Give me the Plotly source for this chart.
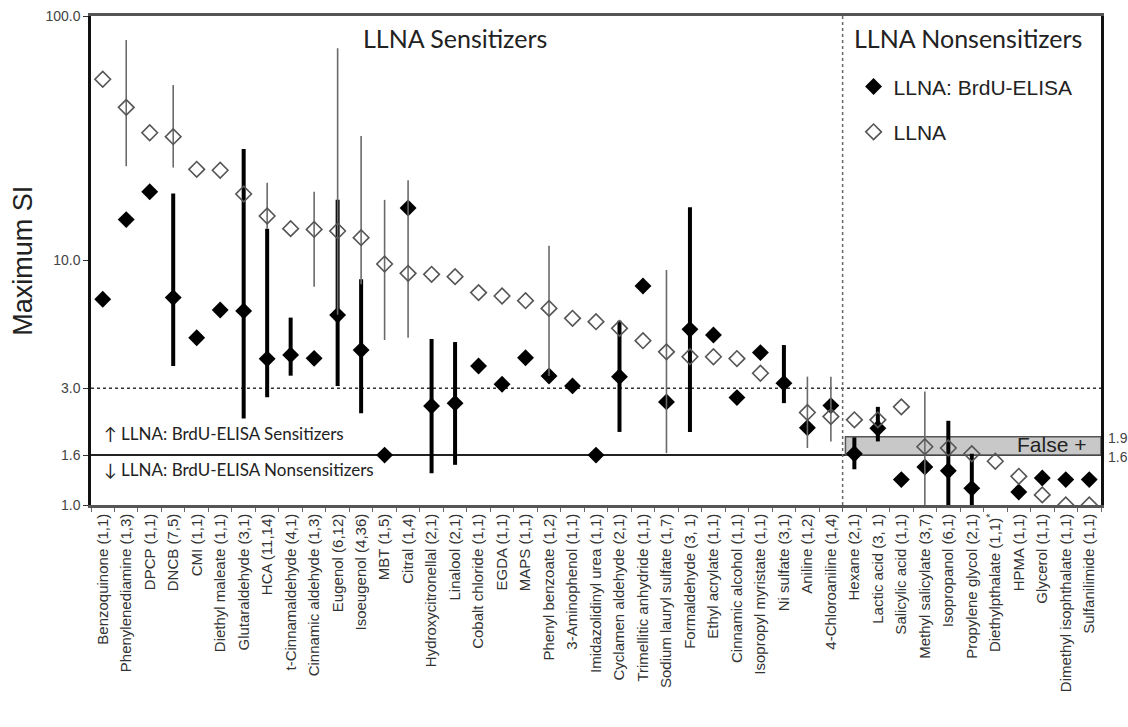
import math
import plotly.graph_objects as go

categories = [
    "Benzoquinone (1,1)", "Phenylenediamine (1,3)", "DPCP (1,1)", "DNCB (7,5)", "CMI (1,1)",
    "Diethyl maleate (1,1)", "Glutaraldehyde (3,1)", "HCA (11,14)", "t-Cinnamaldehyde (4,1)",
    "Cinnamic aldehyde (1,3)", "Eugenol (6,12)", "Isoeugenol (4,36)", "MBT (1,5)", "Citral (1,4)",
    "Hydroxycitronellal (2,1)", "Linalool (2,1)", "Cobalt chloride (1,1)", "EGDA (1,1)", "MAPS (1,1)",
    "Phenyl benzoate (1,2)", "3-Aminophenol (1,1)", "Imidazolidinyl urea (1,1)",
    "Cyclamen aldehyde (2,1)", "Trimellitic anhydride (1,1)", "Sodium lauryl sulfate (1,7)",
    "Formaldehyde (3, 1)", "Ethyl acrylate (1,1)", "Cinnamic alcohol (1,1)",
    "Isopropyl myristate (1,1)", "Ni sulfate (3,1)", "Aniline (1,2)", "4-Chloroaniline (1,4)",
    "Hexane (2,1)", "Lactic acid (3, 1)", "Salicylic acid (1,1)", "Methyl salicylate (3,7)",
    "Isopropanol (6,1)", "Propylene glycol (2,1)", "Diethylpthalate (1,1)<sup>*</sup>",
    "HPMA (1,1)", "Glycerol (1,1)", "Dimethyl isophthalate (1,1)", "Sulfanilimide (1,1)",
]

# LLNA: BrdU-ELISA maximum SI with range (None = no bar / no value)
brdu = [6.94, 14.7, 19.1, 7.05, 4.83, 6.27, 6.22, 3.96, 4.11, 3.98, 5.98, 4.30, 1.60, 16.4,
        2.54, 2.61, 3.70, 3.12, 4.00, 3.37, 3.07, 1.60, 3.35, 7.87, 2.64, 5.23, 4.96, 2.75,
        4.20, 3.15, 2.07, 2.55, 1.62, 2.06, 1.27, 1.43, 1.38, 1.17, None, 1.13, 1.29, 1.27, 1.27]
brdu_hi = [None, None, None, 18.8, None, None, 28.6, 13.5, 5.84, None, 17.7, 8.38, None, None,
           4.77, 4.64, None, None, None, None, None, None, 5.67, None, None, 16.5, None, None,
           None, 4.51, None, None, 1.89, 2.52, None, None, 2.21, 1.62, None, None, None, None, None]
brdu_lo = [None, None, None, 3.70, None, None, 2.26, 2.76, 3.38, None, 3.07, 2.37, None, None,
           1.35, 1.46, None, None, None, None, None, None, 1.99, None, None, 1.99, None, None,
           None, 2.61, None, None, 1.40, 1.82, None, None, 1.0, 1.0, None, None, None, None, None]

# LLNA maximum SI with range
llna = [55.1, 42.3, 33.3, 32.1, 23.6, 23.4, 18.7, 15.2, 13.5, 13.4, 13.2, 12.4, 9.68, 8.86,
        8.78, 8.59, 7.39, 7.16, 6.85, 6.37, 5.80, 5.62, 5.28, 4.70, 4.23, 4.04, 4.04, 3.97,
        3.46, None, 2.39, 2.30, 2.23, 2.23, 2.52, 1.73, 1.71, 1.62, 1.51, 1.31, 1.10, 1.0, 1.0]
llna_hi = [None, 79.8, None, 52.2, None, None, None, 20.8, None, 19.1, 73.8, 32.3, 17.7, 21.3,
           None, None, None, None, None, 11.5, None, None, None, None, 9.15, None, None, None,
           None, None, 3.35, 3.35, None, None, None, 2.91, None, None, None, None, None, None, None]
llna_lo = [None, 24.3, None, 24.0, None, None, None, 13.5, None, 7.81, 6.0, 8.0, 4.73, 4.83,
           None, None, None, None, None, 3.37, None, None, None, None, 1.63, None, None, None,
           None, None, 1.71, 1.82, None, None, None, 1.0, None, None, None, None, None, None, None]

tick_vals = [1.0, 1.6, 3.0, 10.0, 100.0]
tick_text = ["1.0", "1.6", "3.0", "10.0", "100.0"]


def errs(vals, hi, lo):
    plus, minus = [], []
    for v, h, l in zip(vals, hi, lo):
        plus.append(0 if (v is None or h is None) else h - v)
        minus.append(0 if (v is None or l is None) else v - l)
    return plus, minus


b_plus, b_minus = errs(brdu, brdu_hi, brdu_lo)
l_plus, l_minus = errs(llna, llna_hi, llna_lo)

fig = go.Figure()
fig.add_trace(go.Scatter(
    x=categories, y=brdu, mode="markers", name="LLNA: BrdU-ELISA", legendgroup="a",
    marker=dict(symbol="diamond", size=13, color="black"),
    error_y=dict(type="data", symmetric=False, array=b_plus, arrayminus=b_minus,
                 color="black", thickness=4, width=0),
))
fig.add_trace(go.Scatter(
    x=categories, y=llna, mode="markers", name="LLNA", legendgroup="b",
    marker=dict(symbol="diamond-open", size=12, color="#555555", line=dict(width=1.6, color="#555555")),
    error_y=dict(type="data", symmetric=False, array=l_plus, arrayminus=l_minus,
                 color="#6a6a6a", thickness=1.6, width=0),
))

n = len(categories)
shapes = [
    dict(type="line", xref="paper", yref="y", x0=0, x1=1, y0=3.0, y1=3.0,
         line=dict(color="#333333", width=1.5, dash="dot"), layer="below"),
    dict(type="rect", xref="x", yref="y", x0=31.62, x1=n - 0.5, y0=1.6, y1=1.9,
         fillcolor="#c8c8c8", line=dict(color="#555555", width=1.5), layer="below"),
    dict(type="line", xref="paper", yref="y", x0=0, x1=1, y0=1.6, y1=1.6,
         line=dict(color="#222222", width=2), layer="below"),
    dict(type="line", xref="x", yref="paper", x0=31.5, x1=31.5, y0=0, y1=1,
         line=dict(color="#666666", width=1.5, dash="dot"), layer="below"),
]

head_font = dict(family="Lato, Open Sans, sans-serif", size=25, color="#222222")
note_font = dict(family="Lato, Open Sans, sans-serif", size=17, color="#222222")
annotations = [
    dict(text="LLNA Sensitizers", xref="paper", yref="paper", x=0.36, y=0.955,
         showarrow=False, font=head_font, xanchor="center", yanchor="middle"),
    dict(text="LLNA Nonsensitizers", xref="paper", yref="paper", x=0.868, y=0.955,
         showarrow=False, font=head_font, xanchor="center", yanchor="middle"),
    dict(text="↑ LLNA: BrdU-ELISA Sensitizers", xref="paper", yref="paper", x=0.011, y=0.147,
         showarrow=False, font=note_font, xanchor="left", yanchor="middle"),
    dict(text="↓ LLNA: BrdU-ELISA Nonsensitizers", xref="paper", yref="paper", x=0.011, y=0.072,
         showarrow=False, font=note_font, xanchor="left", yanchor="middle"),
    dict(text="False +", xref="paper", yref="paper", x=0.951, y=0.124,
         showarrow=False, font=dict(family="Liberation Sans, Arial", size=21, color="#222222"),
         xanchor="center", yanchor="middle"),
    dict(text="1.9", xref="paper", yref="paper", x=1.005, y=0.137, showarrow=False,
         font=dict(family="Liberation Sans, Arial", size=14, color="#444444"),
         xanchor="left", yanchor="middle"),
    dict(text="1.6", xref="paper", yref="paper", x=1.005, y=0.098, showarrow=False,
         font=dict(family="Liberation Sans, Arial", size=14, color="#444444"),
         xanchor="left", yanchor="middle"),
    dict(text="Maximum SI", xref="paper", yref="paper", x=-0.068, y=0.5, textangle=-90,
         showarrow=False, font=dict(family="Liberation Sans, Arial", size=27, color="#222222"),
         xanchor="center", yanchor="middle"),
]

fig.update_layout(
    width=1128, height=727,
    margin=dict(l=91, r=27, t=16, b=222),
    paper_bgcolor="white", plot_bgcolor="white",
    showlegend=True,
    legend=dict(x=0.755, y=0.897, xanchor="left", yanchor="top", bgcolor="rgba(0,0,0,0)",
                traceorder="grouped", tracegroupgap=15,
                font=dict(family="Liberation Sans, Arial", size=21, color="#222222")),
    shapes=shapes, annotations=annotations,
    font=dict(family="Liberation Sans, Arial", color="#333333"),
)
fig.update_xaxes(
    type="category", categoryorder="array", categoryarray=categories,
    range=[-0.5, n - 0.5], tickangle=-90, tickson="boundaries",
    ticks="outside", ticklen=4, tickcolor="#666666",
    tickfont=dict(family="Liberation Sans, Arial", size=15, color="#333333"),
    showline=True, linecolor="#555555", linewidth=2.5, mirror=True,
    showgrid=False, zeroline=False, automargin=False, ticklabeloverflow="allow",
)
fig.update_yaxes(
    type="log", range=[0, 2], tickvals=tick_vals, ticktext=tick_text,
    ticks="outside", ticklen=5, tickcolor="#333333",
    tickfont=dict(family="Liberation Sans, Arial", size=14, color="#444444"),
    showline=True, linecolor="#111111", linewidth=2.5, mirror=True,
    showgrid=False, zeroline=False, automargin=False, ticklabeloverflow="allow",
)

fig.write_html(
    "out.html",
    config={"displayModeBar": False},
    post_script="document.body.style.margin='0';document.body.style.overflow='hidden';",
)
